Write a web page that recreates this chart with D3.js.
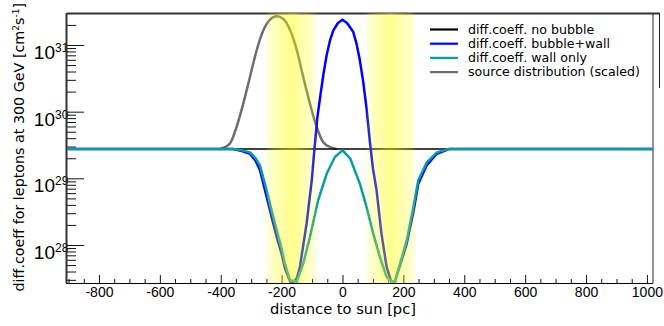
<!DOCTYPE html>
<html>
<head>
<meta charset="utf-8">
<script src="https://cdn.jsdelivr.net/npm/d3@7"></script>
<style>
  body { margin: 0; background: #fff; }
  svg { display: block; font-family: "Liberation Sans", Arial, sans-serif; }
</style>
</head>
<body>
<svg id="chart"></svg>
<script>
// --- data (x in pc, y in cm^2 s^-1) ---
const noBubbleX = [-905, 1020];
const noBubbleY = [2.75e29, 2.75e29];

const wallX = [-905, -360, -330, -304, -285, -271, -249, -233, -216, -200, -189, -172, -150, -129, -107, -80, -52, -25, 0,
               25, 57, 79, 101, 123, 145, 162, 172, 189, 211, 233, 249, 277, 310, 350, 1020];
const wallY = [2.75e29, 2.75e29, 2.63e29, 2.45e29, 2.0e29, 1.55e29, 6.61e28, 3.31e28, 1.66e28, 8.91e27, 5.25e27, 2.95e27, 2.82e27, 5.25e27, 1.32e28, 4.68e28, 1.17e29, 2.09e29, 2.63e29,
               2.0e29, 8.32e28, 3.72e28, 1.48e28, 6.61e27, 3.31e27, 2.82e27, 2.82e27, 5.25e27, 1.17e28, 3.72e28, 9.33e28, 1.74e29, 2.45e29, 2.75e29, 2.75e29];

const bubbleX = [-905, -360, -330, -304, -285, -271, -249, -233, -216, -200, -189, -172, -160, -150, -140, -118, -101, -92, -83, -74, -63, -52, -41, -30, -15, 0,
                 15, 35, 46, 57, 68, 79, 90, 100, 112, 128, 145, 160, 172, 189, 211, 233, 249, 277, 310, 350, 1020];
const bubbleY = [2.75e29, 2.75e29, 2.57e29, 2.34e29, 1.82e29, 1.32e29, 5.25e28, 2.63e28, 1.32e28, 7.41e27, 4.47e27, 2.82e27, 2.82e27, 3.16e27, 4.68e27, 2.09e28, 9.33e28, 2.82e29, 7.94e29, 1.58e30, 3.55e30, 7.08e30, 1.17e31, 1.66e31, 2.14e31, 2.40e31,
                 2.14e31, 1.58e31, 1.05e31, 5.89e30, 2.82e30, 1.12e30, 3.55e29, 1.41e29, 6.61e28, 1.48e28, 4.68e27, 2.82e27, 2.82e27, 5.01e27, 1.05e28, 3.16e28, 8.32e28, 1.58e29, 2.34e29, 2.75e29, 2.75e29];

const sourceX = [-402, -370, -348, -326, -304, -282, -260, -238, -216, -194, -172, -150, -129, -107, -85, -63, -41, -19];
const sourceY = [2.75e29, 3.31e29, 5.89e29, 1.32e30, 3.31e30, 8.32e30, 1.66e31, 2.40e31, 2.69e31, 2.45e31, 1.66e31, 8.32e30, 3.31e30, 1.32e30, 5.89e29, 3.47e29, 2.95e29, 2.75e29];

const wallBands = [[-250, -85], [80, 238]];

const xMajorTicks = [-800, -600, -400, -200, 0, 200, 400, 600, 800, 1000];
const yDecades = [28, 29, 30, 31];

const legendNames = ["diff.coeff. no bubble", "diff.coeff. bubble+wall", "diff.coeff. wall only", "source distribution (scaled)"];
const legendColors = ["#000000", "#0000ff", "#0a9c9e", "#6e6e6e"];

// --- layout ---
const width = 664, height = 326;
const plotLeft = 67, plotRight = 653, plotTop = 14, plotBottom = 283;
const titleFont = "'DejaVu Sans', 'Liberation Sans', sans-serif";

let svg = d3.select("#chart").attr("width", width).attr("height", height);

let x = d3.scaleLinear().domain([-905, 1020]).range([plotLeft, plotRight]);
let y = d3.scaleLog().domain([Math.pow(10, 27.43), Math.pow(10, 31.465)]).range([plotBottom, plotTop]);

// scale a text's font so it spans the width seen in the reference
let fitWidth = (sel, target) => {
    let w = sel.node().getBBox().width;
    let fs = parseFloat(sel.style("font-size"));
    if (w > 0) sel.style("font-size", (fs * target / w).toFixed(2) + "px");
};

// x axis ticks
let xMinor = d3.range(-900, 1001, 50).filter(v => !xMajorTicks.includes(v));
svg.append("g")
    .attr("transform", `translate(0, ${plotBottom})`)
    .call(d3.axisBottom(x).tickValues(xMinor).tickSize(-4).tickFormat(""))
    .call(g => g.select(".domain").remove());
svg.append("g")
    .attr("transform", `translate(0, ${plotBottom})`)
    .call(d3.axisBottom(x).tickValues(xMajorTicks).tickSize(-8).tickPadding(4).tickFormat(d => String(d)))
    .call(g => g.select(".domain").remove())
    .selectAll("text")
    .style("font-size", "14px")
    .style("font-family", "'Liberation Sans', Arial, sans-serif")
    .attr("fill", "#000");

// y axis ticks
let yMinor = [];
for (let e = 27; e <= 31; e++) {
    for (let m = 2; m <= 9; m++) {
        let v = m * Math.pow(10, e);
        if (v >= y.domain()[0] && v <= y.domain()[1]) yMinor.push(v);
    }
}
svg.append("g")
    .attr("transform", `translate(${plotLeft}, 0)`)
    .call(d3.axisLeft(y).tickValues(yMinor).tickSize(-9).tickFormat(""))
    .call(g => g.select(".domain").remove());
svg.append("g")
    .attr("transform", `translate(${plotLeft}, 0)`)
    .call(d3.axisLeft(y).tickValues(yDecades.map(e => Math.pow(10, e))).tickSize(-17).tickFormat(""))
    .call(g => g.select(".domain").remove());
svg.selectAll(".tick line").attr("stroke", "#111").attr("stroke-width", 1);

yDecades.forEach(e => {
    let ty = y(Math.pow(10, e));
    svg.append("text")
        .attr("x", 55).attr("y", ty + 14)
        .attr("text-anchor", "end")
        .style("font-size", "19px")
        .text("10");
    svg.append("text")
        .attr("x", 55).attr("y", ty + 7)
        .style("font-size", "12px")
        .text(e);
});

// frame
svg.append("line").attr("x1", plotLeft).attr("x2", 660).attr("y1", plotTop - 0.5).attr("y2", plotTop - 0.5)
    .attr("stroke", "#333").attr("stroke-width", 2);
svg.append("line").attr("x1", plotLeft - 0.5).attr("x2", plotLeft - 0.5).attr("y1", plotTop - 1).attr("y2", plotBottom)
    .attr("stroke", "#333").attr("stroke-width", 2);
svg.append("line").attr("x1", plotRight).attr("x2", plotRight).attr("y1", plotTop).attr("y2", plotBottom)
    .attr("stroke", "#222").attr("stroke-width", 1);
svg.append("line").attr("x1", plotLeft - 1).attr("x2", plotRight).attr("y1", plotBottom + 0.5).attr("y2", plotBottom + 0.5)
    .attr("stroke", "#000").attr("stroke-width", 1.2);
svg.append("line").attr("x1", 659.5).attr("x2", 659.5).attr("y1", plotTop - 1).attr("y2", 88)
    .attr("stroke", "#222").attr("stroke-width", 1);

// curves
let lineOf = (xs, ys, curve) => d3.line()
    .x((d, i) => x(xs[i]))
    .y(d => y(d))
    .curve(curve || d3.curveLinear)(ys);

let plot = svg.append("g");
plot.append("path").attr("d", lineOf(sourceX, sourceY, d3.curveMonotoneX))
    .attr("fill", "none").attr("stroke", legendColors[3]).attr("stroke-width", 2.5);
plot.append("path").attr("d", lineOf(noBubbleX, noBubbleY))
    .attr("fill", "none").attr("stroke", legendColors[0]).attr("stroke-width", 1.6);
plot.append("path").attr("d", lineOf(bubbleX, bubbleY))
    .attr("fill", "none").attr("stroke", legendColors[1]).attr("stroke-width", 2.5)
    .attr("stroke-linejoin", "round");
plot.append("path").attr("d", lineOf(wallX, wallY))
    .attr("fill", "none").attr("stroke", legendColors[2]).attr("stroke-width", 2.5)
    .attr("stroke-linejoin", "round");

// wall bands (translucent yellow, drawn over the curves)
let defs = svg.append("defs");
let grad = defs.append("linearGradient").attr("id", "bandGrad").attr("x1", 0).attr("x2", 1).attr("y1", 0).attr("y2", 0);
[[0, 0.12], [0.2, 0.28], [0.5, 0.45], [0.8, 0.28], [1, 0.12]].forEach(s => {
    grad.append("stop").attr("offset", s[0]).attr("stop-color", "#ffff00").attr("stop-opacity", s[1]);
});
svg.append("g").selectAll("rect")
    .data(wallBands)
    .enter()
    .append("rect")
    .attr("x", d => x(d[0]))
    .attr("width", d => x(d[1]) - x(d[0]))
    .attr("y", plotTop - 1)
    .attr("height", plotBottom - plotTop + 1)
    .attr("fill", "url(#bandGrad)");

// legend
let legend = svg.append("g").style("font-family", titleFont).style("font-size", "12px");
legendNames.forEach((name, i) => {
    let ly = 29.5 + i * 14.2;
    legend.append("line").attr("x1", 430).attr("x2", 458).attr("y1", ly).attr("y2", ly)
        .attr("stroke", legendColors[i]).attr("stroke-width", 2.2);
    legend.append("text").attr("x", 468).attr("y", ly + 4.3).text(name);
});
let longest = legend.selectAll("text").filter((d, i) => i === 3);
let lw = longest.node().getBBox().width;
legend.style("font-size", (12 * 172 / lw).toFixed(2) + "px");

// axis titles
let xTitle = svg.append("text")
    .attr("x", 270).attr("y", 314)
    .style("font-family", titleFont)
    .style("font-size", "14px")
    .text("distance to sun [pc]");
fitWidth(xTitle, 146);

let yTitle = svg.append("text")
    .attr("transform", "translate(24, 3) rotate(-90)")
    .attr("text-anchor", "end")
    .style("font-family", titleFont)
    .style("font-size", "14px");
yTitle.append("tspan").text("diff.coeff for leptons at 300 GeV [cm");
yTitle.append("tspan").attr("dy", -5).style("font-size", "9px").text("2");
yTitle.append("tspan").attr("dy", 5).text("s");
yTitle.append("tspan").attr("dy", -5).style("font-size", "9px").text("-1");
yTitle.append("tspan").attr("dy", 5).text("]");
fitWidth(yTitle, 289);
</script>
</body>
</html>
